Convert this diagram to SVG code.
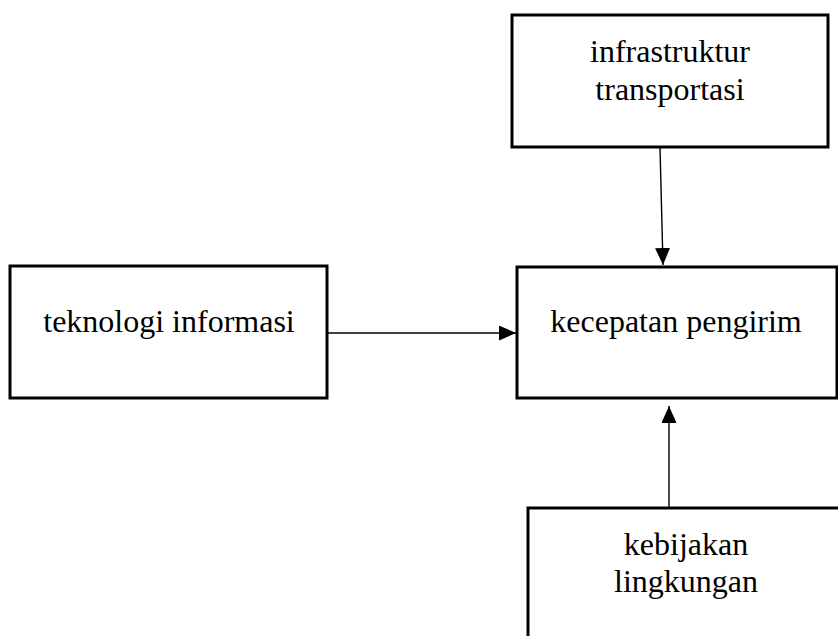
<svg xmlns="http://www.w3.org/2000/svg" width="838" height="636" viewBox="0 0 838 636">
<style>
.box{fill:#fff;stroke:#000;stroke-width:3}
.t{font-family:"Liberation Serif","Times New Roman",serif;font-size:32px;fill:#000;text-anchor:middle}
.c{stroke:#000;stroke-width:1.4;fill:none}
</style>
<defs>
<marker id="ah" markerUnits="userSpaceOnUse" markerWidth="17" markerHeight="15" refX="17" refY="7.5" orient="auto">
<path d="M0,0 L17,7.5 L0,15 z" fill="#000"/>
</marker>
</defs>
<rect width="838" height="636" fill="#fff"/>
<g id="infrastruktur">
<rect class="box" x="512" y="15" width="316" height="132"/>
<text class="t" x="670" y="62">infrastruktur</text>
<text class="t" x="670" y="100">transportasi</text>
</g>
<g id="teknologi">
<rect class="box" x="10" y="266" width="317" height="132"/>
<text class="t" x="169" y="332">teknologi informasi</text>
</g>
<g id="kecepatan">
<rect class="box" x="517" y="267" width="320" height="131"/>
<text class="t" x="676" y="332">kecepatan pengirim</text>
</g>
<g id="kebijakan">
<rect class="box" x="528" y="508" width="320" height="140"/>
<text class="t" x="686" y="555">kebijakan</text>
<text class="t" x="686" y="592">lingkungan</text>
</g>
<g id="connectors">
<line class="c" x1="660" y1="148" x2="663" y2="265" marker-end="url(#ah)"/>
<line class="c" x1="328" y1="333" x2="516" y2="333" marker-end="url(#ah)"/>
<line class="c" x1="669" y1="507" x2="669" y2="406" marker-end="url(#ah)"/>
</g>
</svg>
